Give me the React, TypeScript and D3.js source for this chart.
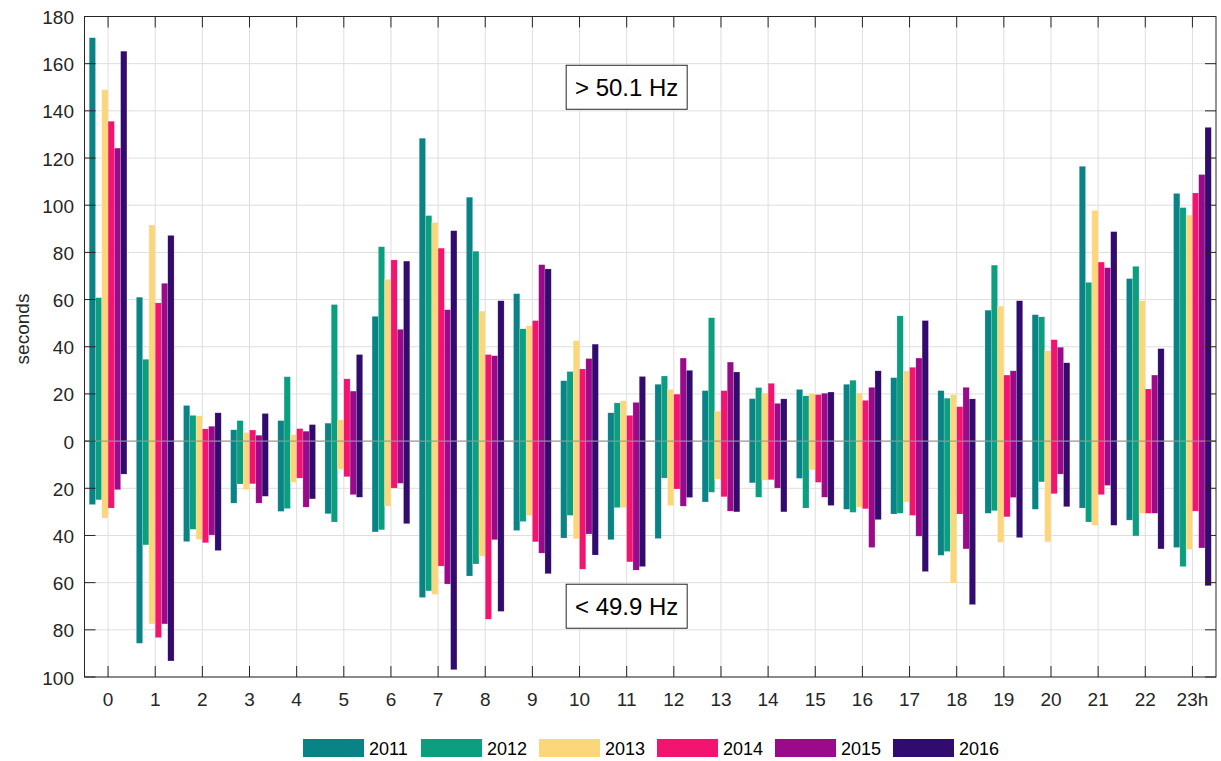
import React from "react";
import * as d3 from "d3";

const hours = d3.range(24);
const hourLabels = hours.map((h) => (h === 23 ? "23h" : String(h)));
const years = ["2011", "2012", "2013", "2014", "2015", "2016"];
const yearColors = ["#0a8386", "#0b9f80", "#fcd67a", "#f3146f", "#9c0a8c", "#320b6e"];
const yTicks = d3.range(-100, 181, 20);

// seconds above 50.1 Hz (positive) per year, hours 0..23
const above2011 = [171, 61, 15.1, 4.8, 8.7, 7.6, 52.9, 128.4, 103.4, 62.5, 25.6, 12.0, 24.1, 21.4, 18.0, 21.9, 24.1, 26.9, 21.4, 55.5, 53.6, 116.5, 68.9, 105.0];
const above2012 = [60.8, 34.7, 10.9, 8.7, 27.3, 57.9, 82.4, 95.6, 80.5, 47.6, 29.5, 16.2, 27.6, 52.3, 22.7, 19.2, 25.8, 53.1, 18.2, 74.6, 52.7, 67.3, 74.1, 99.0];
const above2013 = [149, 91.6, 10.7, 3.6, 2.8, 9.0, 68.6, 92.7, 55.1, 48.9, 42.6, 17.1, 21.9, 12.7, 20.4, 20.1, 20.4, 29.7, 19.7, 57.2, 38.3, 97.8, 59.5, 95.8];
const above2014 = [135.6, 58.6, 5.2, 4.7, 5.3, 26.4, 76.8, 81.8, 36.7, 51.1, 30.6, 10.9, 19.9, 21.4, 24.5, 19.7, 17.3, 31.3, 14.6, 28.0, 43.0, 75.9, 22.1, 105.2];
const above2015 = [124.2, 66.9, 6.3, 2.5, 4.2, 21.2, 47.4, 55.7, 36.2, 74.8, 35.0, 16.4, 35.2, 33.5, 16.0, 20.3, 22.8, 35.2, 22.8, 29.8, 39.8, 73.5, 28.0, 113];
const above2016 = [165.3, 87.2, 12.0, 11.7, 7.0, 36.7, 76.3, 89.2, 59.5, 73.0, 41.1, 27.4, 30.0, 29.3, 17.9, 20.8, 29.8, 51.1, 17.9, 59.5, 33.2, 88.8, 39.2, 133];

// seconds below 49.9 Hz (drawn downward) per year
const below2011 = [26.9, 85.7, 42.6, 26.3, 29.8, 30.8, 38.5, 66.3, 57.2, 37.9, 41.1, 41.8, 41.3, 25.8, 17.7, 15.8, 28.9, 30.9, 48.4, 30.6, 28.9, 28.4, 33.5, 45.1];
const below2012 = [24.9, 44, 37.4, 18.2, 28.6, 34.3, 37.6, 63.5, 52.1, 34.1, 31.5, 28.2, 15.7, 21.7, 23.8, 28.4, 30.2, 30.6, 46.8, 29.5, 17.3, 34.3, 40.2, 53.2];
const below2013 = [32.6, 77.5, 41.6, 20.6, 17.5, 12.0, 27.6, 65.0, 48.8, 31.5, 41.4, 28.2, 27.3, 16.2, 16.6, 12.2, 28.0, 25.8, 60.2, 42.9, 42.7, 35.7, 30.6, 45.9];
const below2014 = [28.4, 83.3, 43.1, 18.1, 15.7, 15.1, 19.9, 53.0, 75.5, 42.7, 54.3, 51.2, 20.3, 23.6, 16.4, 17.5, 28.7, 31.5, 30.9, 32.1, 22.3, 22.7, 30.6, 29.7];
const below2015 = [20.6, 77.5, 39.8, 26.3, 28.0, 22.7, 17.9, 60.6, 41.8, 47.5, 39.4, 54.7, 27.6, 29.7, 19.9, 23.8, 45.1, 40.3, 45.7, 23.9, 14.0, 18.8, 30.6, 45.3];
const below2016 = [14.0, 93.2, 46.4, 23.4, 24.5, 23.8, 35.0, 96.9, 72.2, 56.2, 48.3, 53.2, 23.9, 30.0, 30.0, 27.3, 33.3, 55.3, 69.3, 40.9, 27.8, 35.7, 45.7, 61.3];

const aboveSeries = [above2011, above2012, above2013, above2014, above2015, above2016];
const belowSeries = [below2011, below2012, below2013, below2014, below2015, below2016];

const W = 1221;
const H = 761;
const left = 84.5;
const right = 1216;
const top = 16.5;
const bottom = 677;
const fontFam = "'Liberation Sans', Arial, Helvetica, sans-serif";
const tickColor = "#262626";

export default function App() {
  const x = d3.scaleLinear().domain([-0.5, 23.5]).range([left, right]);
  const y = d3.scaleLinear().domain([-100, 180]).range([bottom, top]);
  const band = x(1) - x(0);
  const groupW = band * 0.8;
  const sub = d3.scaleBand<string>().domain(years).range([-groupW / 2, groupW / 2]).padding(0);
  const tickLen = 11;

  const bars: React.ReactNode[] = [];
  years.forEach((yr, yi) => {
    hours.forEach((h) => {
      const bx = x(h) + (sub(yr) as number);
      const bw = sub.bandwidth();
      const up = aboveSeries[yi][h];
      const dn = belowSeries[yi][h];
      bars.push(
        <rect key={`u-${yr}-${h}`} x={bx} y={y(up)} width={bw} height={y(0) - y(up)}
          fill={yearColors[yi]} stroke="#ffffff" strokeOpacity={0.35} strokeWidth={0.5} />
      );
      bars.push(
        <rect key={`d-${yr}-${h}`} x={bx} y={y(0)} width={bw} height={y(-dn) - y(0)}
          fill={yearColors[yi]} stroke="#ffffff" strokeOpacity={0.35} strokeWidth={0.5} />
      );
    });
  });

  const boxW = 121;
  const boxH = 44;

  return (
    <svg width={W} height={H} style={{ position: "absolute", left: 0, top: 0, background: "#fff" }}
      fontFamily={fontFam}>
      <rect x={0} y={0} width={W} height={H} fill="#ffffff" />
      {/* grid */}
      {yTicks.map((t) => (
        <line key={`gy${t}`} x1={left} x2={right} y1={y(t)} y2={y(t)} stroke="#dedede" strokeWidth={1} />
      ))}
      {hours.map((h) => (
        <line key={`gx${h}`} x1={x(h)} x2={x(h)} y1={top} y2={bottom} stroke="#dedede" strokeWidth={1} />
      ))}
      {bars}
      {/* baseline */}
      <line x1={left} x2={right} y1={y(0)} y2={y(0)} stroke="#8a8a8a" strokeWidth={1} />
      {/* annotation boxes */}
      <g>
        <rect x={x(11) - boxW / 2} y={y(150) - boxH / 2} width={boxW} height={boxH} fill="#fff" stroke={tickColor} strokeWidth={1} />
        <text x={x(11)} y={y(150)} textAnchor="middle" dominantBaseline="central" fontSize={24} fill="#000">&gt; 50.1 Hz</text>
        <rect x={x(11) - boxW / 2} y={y(-70) - boxH / 2} width={boxW} height={boxH} fill="#fff" stroke={tickColor} strokeWidth={1} />
        <text x={x(11)} y={y(-70)} textAnchor="middle" dominantBaseline="central" fontSize={24} fill="#000">&lt; 49.9 Hz</text>
      </g>
      {/* frame */}
      <rect x={left} y={top} width={right - left} height={bottom - top} fill="none" stroke={tickColor} strokeWidth={1} />
      {/* ticks */}
      {hours.map((h) => (
        <g key={`tx${h}`}>
          <line x1={x(h)} x2={x(h)} y1={bottom} y2={bottom - tickLen} stroke={tickColor} />
          <line x1={x(h)} x2={x(h)} y1={top} y2={top + tickLen} stroke={tickColor} />
          <text x={x(h)} y={699} textAnchor="middle" dominantBaseline="central" fontSize={19} fill={tickColor}>
            {hourLabels[h]}
          </text>
        </g>
      ))}
      {yTicks.map((t) => (
        <g key={`ty${t}`}>
          <line x1={left} x2={left + tickLen} y1={y(t)} y2={y(t)} stroke={tickColor} />
          <line x1={right} x2={right - tickLen} y1={y(t)} y2={y(t)} stroke={tickColor} />
          <text x={74} y={y(t) + 1} textAnchor="end" dominantBaseline="central" fontSize={19} fill={tickColor}>
            {Math.abs(t)}
          </text>
        </g>
      ))}
      <text transform="translate(22, 329) rotate(-90)" textAnchor="middle" dominantBaseline="central"
        fontSize={19} fill={tickColor}>seconds</text>
      {/* legend */}
      {years.map((yr, i) => {
        const lx = 303 + i * 118;
        return (
          <g key={`lg${yr}`}>
            <rect x={lx} y={739} width={61} height={18} fill={yearColors[i]} />
            <text x={lx + 66} y={748.5} dominantBaseline="central" fontSize={18} fill="#000">{yr}</text>
          </g>
        );
      })}
    </svg>
  );
}
